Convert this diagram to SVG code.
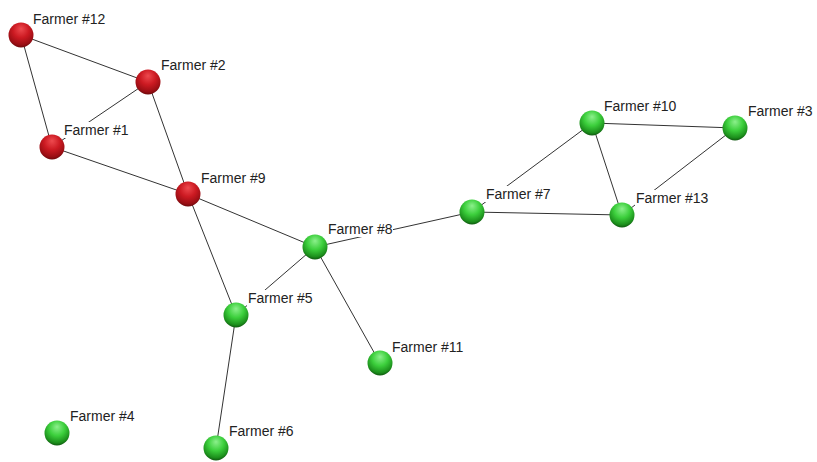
<svg xmlns="http://www.w3.org/2000/svg" width="817" height="462" viewBox="0 0 817 462">
  <defs>
    <radialGradient id="redBall" cx="0.5" cy="0.35" r="0.7" fx="0.5" fy="0.25">
      <stop offset="0" stop-color="#ee4a4f"/>
      <stop offset="0.45" stop-color="#cc1a22"/>
      <stop offset="0.8" stop-color="#9a0e14"/>
      <stop offset="1" stop-color="#5a0608"/>
    </radialGradient>
    <radialGradient id="greenBall" cx="0.5" cy="0.35" r="0.7" fx="0.5" fy="0.25">
      <stop offset="0" stop-color="#8cf08c"/>
      <stop offset="0.45" stop-color="#3ccf3c"/>
      <stop offset="0.8" stop-color="#1c8f1c"/>
      <stop offset="1" stop-color="#0a400a"/>
    </radialGradient>
  </defs>
  <style>
    .edge { stroke: #333; stroke-width: 1; fill: none; }
    .lbl-bg { fill: #fff; }
    .lbl { font-family: "Liberation Sans", Arial, sans-serif; font-size: 14px; fill: #222; }
    .red { fill: url(#redBall); }
    .green { fill: url(#greenBall); }
  </style>
  <rect width="817" height="462" fill="#fff"/>

  <!-- connectors -->
  <g id="edges">
    <line class="edge" x1="21" y1="35" x2="148" y2="82"/>
    <line class="edge" x1="21" y1="35" x2="52" y2="147"/>
    <line class="edge" x1="148" y1="82" x2="52" y2="147"/>
    <line class="edge" x1="148" y1="82" x2="188" y2="194"/>
    <line class="edge" x1="52" y1="147" x2="188" y2="194"/>
    <line class="edge" x1="188" y1="194" x2="315" y2="247"/>
    <line class="edge" x1="188" y1="194" x2="236" y2="315"/>
    <line class="edge" x1="315" y1="247" x2="236" y2="315"/>
    <line class="edge" x1="315" y1="247" x2="380" y2="363"/>
    <line class="edge" x1="315" y1="247" x2="472" y2="212"/>
    <line class="edge" x1="236" y1="315" x2="216" y2="448"/>
    <line class="edge" x1="472" y1="212" x2="592" y2="123"/>
    <line class="edge" x1="472" y1="212" x2="622" y2="215"/>
    <line class="edge" x1="592" y1="123" x2="735" y2="128"/>
    <line class="edge" x1="592" y1="123" x2="622" y2="215"/>
    <line class="edge" x1="735" y1="128" x2="622" y2="215"/>
  </g>

  <!-- nodes: label box, label, sphere -->
  <g id="farmer12">
    <rect class="lbl-bg" x="32" y="11" width="74" height="16"/>
    <text class="lbl" x="33" y="24">Farmer #12</text>
    <circle class="red" cx="21" cy="35" r="12.5"/>
  </g>
  <g id="farmer2">
    <rect class="lbl-bg" x="160" y="57" width="66" height="16"/>
    <text class="lbl" x="161" y="70">Farmer #2</text>
    <circle class="red" cx="148" cy="82" r="12.5"/>
  </g>
  <g id="farmer1">
    <rect class="lbl-bg" x="63" y="122" width="66" height="16"/>
    <text class="lbl" x="64" y="135">Farmer #1</text>
    <circle class="red" cx="52" cy="147" r="12.5"/>
  </g>
  <g id="farmer9">
    <rect class="lbl-bg" x="200" y="170" width="66" height="16"/>
    <text class="lbl" x="201" y="183">Farmer #9</text>
    <circle class="red" cx="188" cy="194" r="12.5"/>
  </g>
  <g id="farmer8">
    <rect class="lbl-bg" x="327" y="221" width="66" height="16"/>
    <text class="lbl" x="328" y="234">Farmer #8</text>
    <circle class="green" cx="315" cy="247" r="12.5"/>
  </g>
  <g id="farmer5">
    <rect class="lbl-bg" x="247" y="290" width="66" height="16"/>
    <text class="lbl" x="248" y="303">Farmer #5</text>
    <circle class="green" cx="236" cy="315" r="12.5"/>
  </g>
  <g id="farmer11">
    <rect class="lbl-bg" x="391" y="339" width="74" height="16"/>
    <text class="lbl" x="392" y="352">Farmer #11</text>
    <circle class="green" cx="380" cy="363" r="12.5"/>
  </g>
  <g id="farmer4">
    <rect class="lbl-bg" x="69" y="408" width="66" height="16"/>
    <text class="lbl" x="70" y="421">Farmer #4</text>
    <circle class="green" cx="57" cy="433" r="12.5"/>
  </g>
  <g id="farmer6">
    <rect class="lbl-bg" x="228" y="423" width="66" height="16"/>
    <text class="lbl" x="229" y="436">Farmer #6</text>
    <circle class="green" cx="216" cy="448" r="12.5"/>
  </g>
  <g id="farmer7">
    <rect class="lbl-bg" x="485" y="186" width="66" height="16"/>
    <text class="lbl" x="486" y="199">Farmer #7</text>
    <circle class="green" cx="472" cy="212" r="12.5"/>
  </g>
  <g id="farmer10">
    <rect class="lbl-bg" x="603" y="98" width="74" height="16"/>
    <text class="lbl" x="604" y="111">Farmer #10</text>
    <circle class="green" cx="592" cy="123" r="12.5"/>
  </g>
  <g id="farmer3">
    <rect class="lbl-bg" x="747" y="103" width="66" height="16"/>
    <text class="lbl" x="748" y="116">Farmer #3</text>
    <circle class="green" cx="735" cy="128" r="12.5"/>
  </g>
  <g id="farmer13">
    <rect class="lbl-bg" x="635" y="190" width="74" height="16"/>
    <text class="lbl" x="636" y="203">Farmer #13</text>
    <circle class="green" cx="622" cy="215" r="12.5"/>
  </g>
</svg>
